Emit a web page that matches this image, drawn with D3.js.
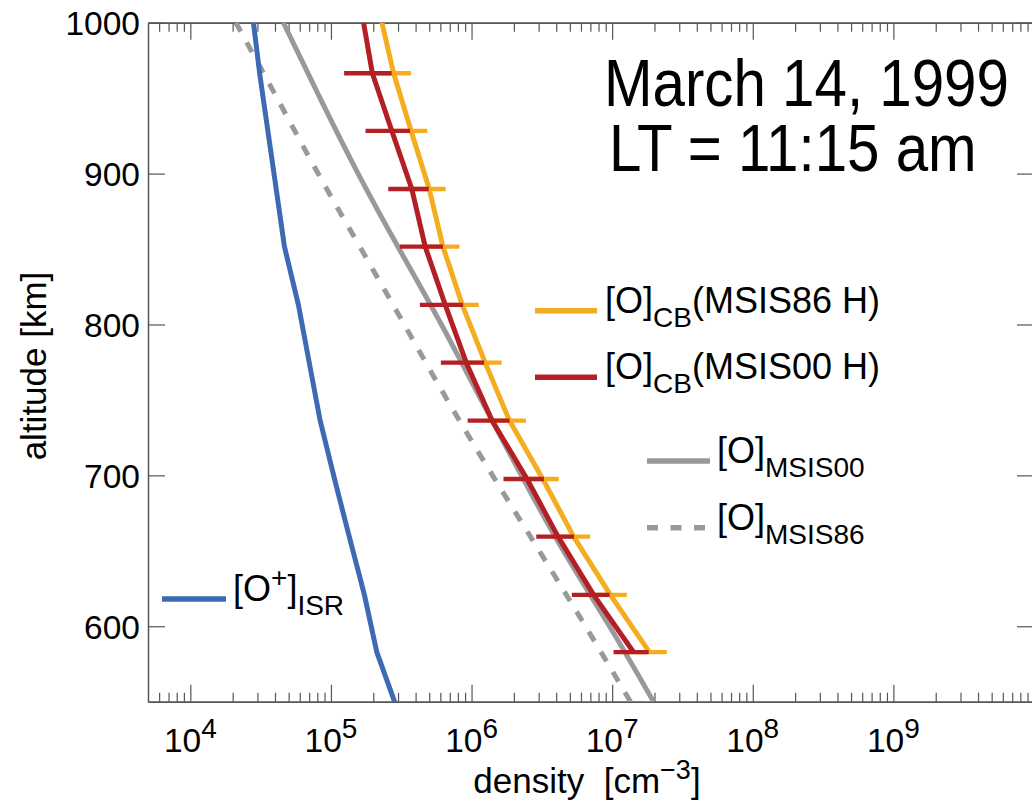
<!DOCTYPE html>
<html>
<head>
<meta charset="utf-8">
<script src="https://cdn.jsdelivr.net/npm/d3@7"></script>
<style>
  body { margin: 0; background: #fff; }
  svg { display: block; font-family: "Liberation Sans", Arial, Helvetica, sans-serif; }
</style>
</head>
<body>
<div class="svg"></div>
<script>
// ISR profile (km, cm^-3)
const altISR   = [544.4, 582.8, 620.8, 659.4, 697.6, 736.3, 774.7, 813.0, 851.6, 889.8, 928.3, 966.5, 1005.0];
const oPlusISR = [2.98e5, 2.12e5, 1.73e5, 1.35e5, 1.06e5, 8.38e4, 7.01e4, 5.87e4, 4.67e4, 4.08e4, 3.56e4, 3.11e4, 2.77e4];

// Chapman-based [O] retrievals
const altCB  = [582.8, 620.8, 659.4, 697.6, 736.3, 774.7, 813.0, 851.6, 889.8, 928.3, 966.5, 1005.0];
const oCB86  = [1.84e7, 9.71e6, 5.32e6, 3.21e6, 1.86e6, 1.25e6, 8.59e5, 6.26e5, 5.00e5, 3.72e5, 2.79e5, 2.24e5];
const oCB00  = [1.42e7, 7.38e6, 4.12e6, 2.48e6, 1.40e6, 9.17e5, 6.50e5, 4.68e5, 3.76e5, 2.71e5, 1.97e5, 1.67e5];
// relative errors at the first 11 altitudes
const errCB86 = [0.33, 0.31, 0.31, 0.30, 0.31, 0.31, 0.31, 0.31, 0.31, 0.30, 0.33];
const errCB00 = [0.28, 0.30, 0.30, 0.32, 0.33, 0.34, 0.34, 0.34, 0.32, 0.35, 0.37];

// MSIS models
const altMSIS = [550, 600, 650, 700, 750, 800, 850, 900, 950, 1000];
const oMSIS00 = [1.97e7, 9.57e6, 4.50e6, 2.26e6, 1.17e6, 6.10e5, 3.06e5, 1.56e5, 8.37e4, 4.59e4];
const oMSIS86 = [1.35e7, 6.46e6, 3.03e6, 1.41e6, 6.72e5, 3.32e5, 1.64e5, 8.11e4, 4.14e4, 2.11e4];

const xTicks = [1e4, 1e5, 1e6, 1e7, 1e8, 1e9];
const xTickExp = ["4", "5", "6", "7", "8", "9"];
const yTicks = [600, 700, 800, 900, 1000];

const width = 1032, height = 805;
const pLeft = 148, pRight = 1034, pTop = 22.7, pBottom = 701.7;

const colOrange = "#f4ad20", colRed = "#b41f25", colGray = "#999999", colBlue = "#3e6ab4";
const axisCol = "#555";

let svg = d3.select('.svg').append("svg").attr("width", width).attr("height", height);

let x = d3.scaleLog().domain([5e3, 1e10]).range([pLeft, pRight]);
let y = d3.scaleLinear().domain([550, 1000]).range([pBottom, pTop]);

svg.append("clipPath").attr("id", "plot")
  .append("rect").attr("x", pLeft).attr("y", pTop).attr("width", pRight - pLeft).attr("height", pBottom - pTop);

// minor ticks
let minor = [];
for (let d = 3; d <= 9; d++) {
  for (let m = 2; m <= 9; m++) {
    let v = m * Math.pow(10, d);
    if (v > 5e3 && v < 1e10) minor.push(v);
  }
}

function styleAxis(g) {
  g.select(".domain").attr("stroke", axisCol).attr("stroke-width", 1.5);
  g.selectAll(".tick line").attr("stroke", axisCol).attr("stroke-width", 1.2);
  g.selectAll(".tick text").remove();
}

svg.append('g').attr('transform', 'translate(0,' + pBottom + ')')
  .call(d3.axisBottom(x).tickValues(xTicks).tickSize(-17).tickSizeOuter(0).tickFormat(""))
  .call(styleAxis);
svg.append('g').attr('transform', 'translate(0,' + pBottom + ')')
  .call(d3.axisBottom(x).tickValues(minor).tickSize(-9).tickSizeOuter(0).tickFormat(""))
  .call(styleAxis);
svg.append('g').attr('transform', 'translate(0,' + pTop + ')')
  .call(d3.axisTop(x).tickValues(xTicks).tickSize(-17).tickSizeOuter(0).tickFormat(""))
  .call(styleAxis);
svg.append('g').attr('transform', 'translate(0,' + pTop + ')')
  .call(d3.axisTop(x).tickValues(minor).tickSize(-9).tickSizeOuter(0).tickFormat(""))
  .call(styleAxis);
svg.append('g').attr('transform', 'translate(' + pLeft + ',0)')
  .call(d3.axisLeft(y).tickValues(yTicks).tickSize(-17).tickSizeOuter(0).tickFormat(""))
  .call(styleAxis);
svg.append('g').attr('transform', 'translate(' + pRight + ',0)')
  .call(d3.axisRight(y).tickValues(yTicks).tickSize(-17).tickSizeOuter(0).tickFormat(""))
  .call(styleAxis);

// tick labels
svg.selectAll('.ylab').data(yTicks).enter().append('text')
  .attr('x', 140).attr('y', d => y(d) + 12.5)
  .attr('text-anchor', 'end').attr('font-size', 33.5).attr('fill', '#000')
  .text(d => d);

let xl = svg.selectAll('.xlab').data(xTicks).enter().append('text')
  .attr('x', d => x(d)).attr('y', 752)
  .attr('text-anchor', 'middle').attr('font-size', 33.5).attr('fill', '#000');
xl.append('tspan').text("10");
xl.append('tspan').attr('font-size', 28).attr('dy', -14).text((d, i) => xTickExp[i]);

// axis titles
let xt = svg.append('text').attr('x', 587).attr('y', 793).attr('text-anchor', 'middle')
  .attr('font-size', 35).attr('fill', '#000');
xt.append('tspan').text("density\u00a0\u00a0[cm");
xt.append('tspan').attr('font-size', 27).attr('dy', -14).text("\u22123");
xt.append('tspan').attr('dy', 14).text("]");

svg.append('text').attr('transform', 'translate(46,366) rotate(-90)')
  .attr('text-anchor', 'middle').attr('font-size', 35).attr('fill', '#000')
  .text("altitude [km]");

// curves
let plot = svg.append('g').attr('clip-path', 'url(#plot)');
let line = d3.line().x(d => x(d[0])).y(d => y(d[1]));
let smooth = d3.line().x(d => x(d[0])).y(d => y(d[1])).curve(d3.curveNatural);

plot.append('path').datum(altMSIS.map((a, i) => [oMSIS86[i], a]))
  .attr('d', smooth).attr('fill', 'none').attr('stroke', colGray)
  .attr('stroke-width', 5).attr('stroke-dasharray', '11,12.5');
plot.append('path').datum(altMSIS.map((a, i) => [oMSIS00[i], a]))
  .attr('d', smooth).attr('fill', 'none').attr('stroke', colGray).attr('stroke-width', 5);
plot.append('path').datum(altISR.map((a, i) => [oPlusISR[i], a]))
  .attr('d', line).attr('fill', 'none').attr('stroke', colBlue).attr('stroke-width', 5);

function profile(vals, errs, color) {
  plot.append('path').datum(altCB.map((a, i) => [vals[i], a]))
    .attr('d', line).attr('fill', 'none').attr('stroke', color)
    .attr('stroke-width', 5).attr('stroke-linejoin', 'round');
  plot.selectAll(null).data(errs).enter().append('line')
    .attr('x1', (e, i) => x(vals[i] * (1 - e)))
    .attr('x2', (e, i) => x(vals[i] * (1 + e)))
    .attr('y1', (e, i) => y(altCB[i]))
    .attr('y2', (e, i) => y(altCB[i]))
    .attr('stroke', color).attr('stroke-width', 4.3);
}
profile(oCB86, errCB86, colOrange);
profile(oCB00, errCB00, colRed);

// title: one text, two lines, squeezed horizontally a little
let sx = 0.883;
let title = svg.append('text').attr('transform', 'scale(' + sx + ',1)')
  .attr('font-size', 66).attr('fill', '#000');
title.append('tspan').attr('x', 604 / sx).attr('y', 106.5).text("March 14, 1999");
title.append('tspan').attr('x', 609 / sx).attr('y', 171.5).text("LT = 11:15 am");

// legend
function legendEntry(x1, x2, ly, color, dash, tx, main, sub, tail, sup) {
  svg.append('line').attr('x1', x1).attr('x2', x2).attr('y1', ly).attr('y2', ly)
    .attr('stroke', color).attr('stroke-width', 5.5)
    .attr('stroke-dasharray', dash || null);
  let t = svg.append('text').attr('x', tx).attr('y', ly + 2).attr('font-size', 36).attr('fill', '#000');
  if (sup) {
    t.append('tspan').text("[O");
    t.append('tspan').attr('font-size', 28).attr('dy', -14).text(sup);
    t.append('tspan').attr('dy', 14).text("]");
  } else {
    t.append('tspan').text(main);
  }
  t.append('tspan').attr('font-size', 28).attr('dy', 14).text(sub);
  if (tail) t.append('tspan').attr('dy', -14).text(tail);
}
legendEntry(535, 597, 310.7, colOrange, null, 605, "[O]", "CB", "(MSIS86 H)");
legendEntry(535, 597, 377.3, colRed, null, 605, "[O]", "CB", "(MSIS00 H)");
legendEntry(647, 710, 461, colGray, null, 717, "[O]", "MSIS00", null);
legendEntry(647, 710, 527.7, colGray, '11,12.5', 717, "[O]", "MSIS86", null);
legendEntry(162, 226, 599, colBlue, null, 233, null, "ISR", null, "+");
</script>
</body>
</html>
